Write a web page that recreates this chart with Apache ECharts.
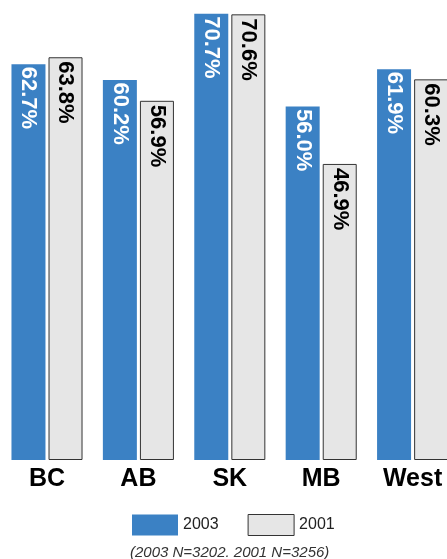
<!DOCTYPE html>
<html>
<head>
<meta charset="utf-8">
<script src="https://cdn.jsdelivr.net/npm/echarts@6/dist/echarts.min.js"></script>
<style>
html,body{margin:0;padding:0;background:#fff;}
#chart{width:447px;height:559px;}
</style>
</head>
<body>
<div id="chart"></div>
<script>
const categories = ['BC', 'AB', 'SK', 'MB', 'West'];
const values2003 = [62.7, 60.2, 70.7, 56.0, 61.9];
const values2001 = [63.8, 56.9, 70.6, 46.9, 60.3];
const seriesNames = ['2003', '2001'];
const footnote = '(2003 N=3202. 2001 N=3256)';

const chart = echarts.init(document.getElementById('chart'), null, {renderer: 'canvas'});

function barLabel(color, dx) {
  return {
    show: true,
    position: 'insideTop',
    distance: 5,
    rotate: -90,
    align: 'left',
    verticalAlign: 'middle',
    offset: [dx, 0],
    color: color,
    fontFamily: 'Liberation Sans',
    fontWeight: 'bold',
    fontSize: 22,
    formatter: p => p.value.toFixed(1) + '%'
  };
}

chart.setOption({
  animation: false,
  backgroundColor: '#ffffff',
  grid: {left: 1.3, width: 457, top: 0, height: 460, containLabel: false, outerBoundsMode: 'none'},
  legend: {
    left: 132, top: 514, padding: 0,
    itemWidth: 46, itemHeight: 21, itemGap: 29,
    icon: 'rect',
    textStyle: {fontFamily: 'Liberation Sans', fontSize: 16, color: '#222'},
    data: [
      {name: seriesNames[0], icon: 'rect', itemStyle: {color: '#3b81c4', borderWidth: 0}},
      {name: seriesNames[1], icon: 'rect', itemStyle: {color: '#e6e6e6', borderColor: '#333', borderWidth: 1}}
    ]
  },
  graphic: [{
    type: 'text', left: 130, top: 545,
    style: {text: footnote, fontFamily: 'Liberation Sans', fontStyle: 'italic', fontSize: 15, fill: '#333'}
  }],
  xAxis: {
    type: 'category', data: categories,
    axisLine: {show: false}, axisTick: {show: false},
    axisLabel: {margin: 7, fontFamily: 'Liberation Sans', fontWeight: 'bold', fontSize: 25, color: '#000'}
  },
  yAxis: {type: 'value', min: 0, max: 72.87, show: false, splitLine: {show: false}},
  series: [
    {
      name: seriesNames[0], type: 'bar', data: values2003,
      barWidth: 34, barGap: '9%',
      itemStyle: {color: '#3b81c4'},
      label: barLabel('#ffffff', -2.5)
    },
    {
      name: seriesNames[1], type: 'bar', data: values2001,
      barWidth: 34,
      itemStyle: {color: '#e6e6e6', borderColor: '#333', borderWidth: 1},
      label: barLabel('#000000', -1)
    }
  ]
});
</script>
</body>
</html>
